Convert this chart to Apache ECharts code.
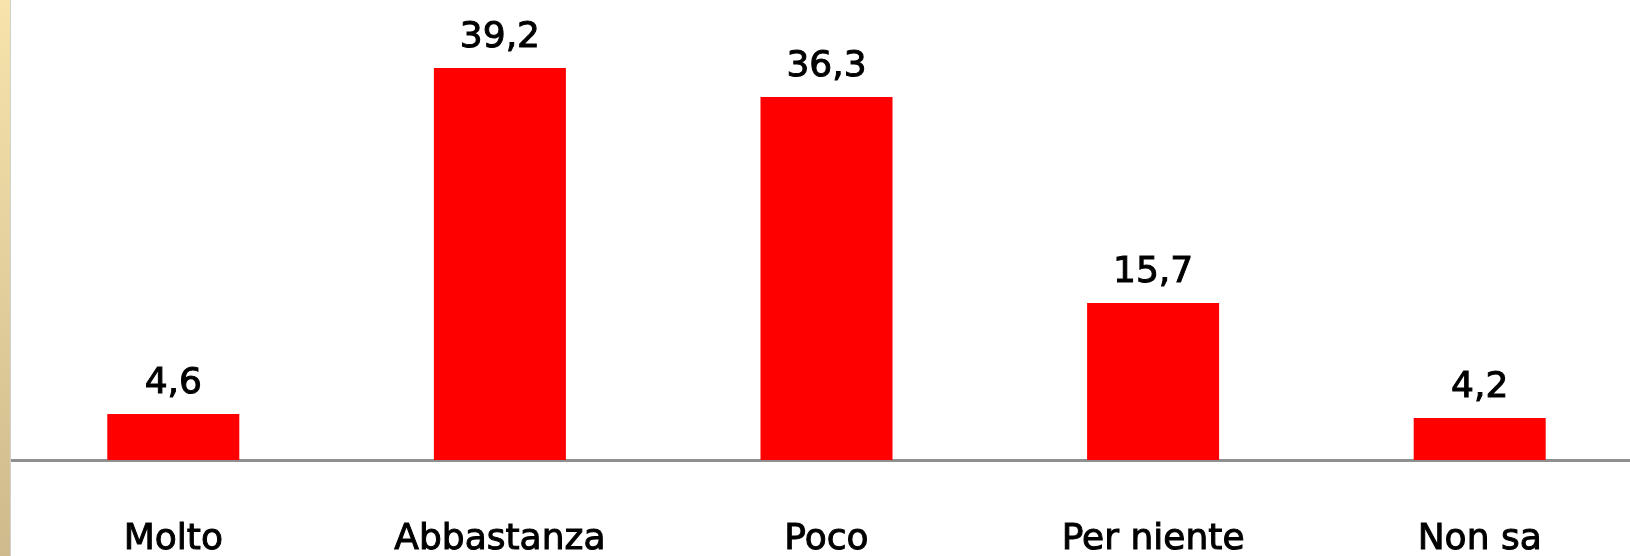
<!DOCTYPE html>
<html>
<head>
<meta charset="utf-8">
<script src="https://cdn.jsdelivr.net/npm/echarts@6/dist/echarts.min.js"></script>
<style>
html,body{margin:0;padding:0;background:#fff;}
#chart{width:1630px;height:556px;}
</style>
</head>
<body>
<div id="chart"></div>
<script>
const categories = ['Molto', 'Abbastanza', 'Poco', 'Per niente', 'Non sa'];
const values = [4.6, 39.2, 36.3, 15.7, 4.2];

const chart = echarts.init(document.getElementById('chart'), null, {renderer: 'canvas'});
const fontFamily = '"DejaVu Sans", sans-serif';
chart.setOption({
  backgroundColor: '#ffffff',
  animation: false,
  grid: {left: 10, top: 0, width: 1633, height: 460, containLabel: false, outerBoundsMode: 'none'},
  xAxis: {
    type: 'category',
    data: categories,
    axisTick: {show: false},
    axisLine: {show: true, lineStyle: {color: '#8f8f8f', width: 3}},
    axisLabel: {color: '#000', fontFamily: fontFamily, fontSize: 36, margin: 62, interval: 0,
      textBorderColor: '#000', textBorderWidth: 1}
  },
  yAxis: {
    type: 'value', min: 0, max: 46,
    show: false,
    splitLine: {show: false}
  },
  series: [{
    type: 'bar',
    data: values,
    barWidth: 132,
    itemStyle: {color: '#ff0000'},
    label: {
      show: true, position: 'top', distance: 12,
      color: '#000', fontFamily: fontFamily, fontSize: 36,
      textBorderColor: '#000', textBorderWidth: 1,
      formatter: p => p.value.toFixed(1).replace('.', ',')
    }
  }],
  graphic: [
    {type: 'rect', left: 0, top: 0, shape: {width: 10, height: 556}, z: 100,
     style: {fill: new echarts.graphic.LinearGradient(0, 0, 0, 1, [
       {offset: 0, color: '#f7e3ab'}, {offset: 1, color: '#cdbb8d'}])}},
    {type: 'rect', left: 10, top: 0, shape: {width: 1, height: 556}, z: 100,
     style: {fill: '#d0d0d0'}}
  ]
});
</script>
</body>
</html>
